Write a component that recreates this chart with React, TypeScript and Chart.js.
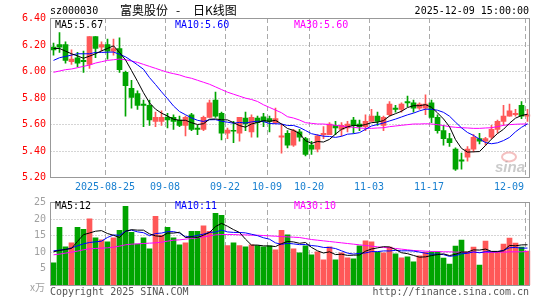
import React, { useEffect, useRef } from 'react';
import { Chart, registerables } from 'chart.js';

Chart.register(...registerables);

// ---------------- data ----------------
const dates = [
  '2025-08-12','2025-08-13','2025-08-14','2025-08-15','2025-08-18','2025-08-19','2025-08-20','2025-08-21','2025-08-22','2025-08-25',
  '2025-08-26','2025-08-27','2025-08-28','2025-08-29','2025-09-01','2025-09-02','2025-09-03','2025-09-04','2025-09-05','2025-09-08',
  '2025-09-09','2025-09-10','2025-09-11','2025-09-12','2025-09-15','2025-09-16','2025-09-17','2025-09-18','2025-09-19','2025-09-22',
  '2025-09-23','2025-09-24','2025-09-25','2025-09-26','2025-09-29','2025-09-30','2025-10-09','2025-10-10','2025-10-13','2025-10-14',
  '2025-10-15','2025-10-16','2025-10-17','2025-10-20','2025-10-21','2025-10-22','2025-10-23','2025-10-24','2025-10-27','2025-10-28',
  '2025-10-29','2025-10-30','2025-10-31','2025-11-03','2025-11-04','2025-11-05','2025-11-06','2025-11-07','2025-11-10','2025-11-11',
  '2025-11-12','2025-11-13','2025-11-14','2025-11-17','2025-11-18','2025-11-19','2025-11-20','2025-11-21','2025-11-24','2025-11-25',
  '2025-11-26','2025-11-27','2025-11-28','2025-12-01','2025-12-02','2025-12-03','2025-12-04','2025-12-05','2025-12-08','2025-12-09',
];

const tickDates = ['2025-08-25','2025-09-08','2025-09-22','2025-10-09','2025-10-20','2025-11-03','2025-11-17','2025-12-09'];
const tickTexts = ['2025-08-25','09-08','09-22','10-09','10-20','11-03','11-17','12-09'];

const opens = [
  6.18,6.20,6.20,6.07,6.10,6.08,6.05,6.26,6.18,6.20,
  6.15,6.17,5.99,5.87,5.83,5.75,5.74,5.62,5.62,5.65,
  5.65,5.63,5.59,5.67,5.57,5.56,5.65,5.78,5.68,5.53,
  5.55,5.53,5.645,5.54,5.645,5.655,5.64,5.61,5.50,5.53,
  5.44,5.54,5.49,5.44,5.41,5.52,5.52,5.59,5.56,5.57,
  5.63,5.60,5.58,5.62,5.66,5.59,5.67,5.72,5.71,5.77,
  5.76,5.72,5.72,5.76,5.65,5.55,5.49,5.41,5.33,5.35,
  5.41,5.49,5.47,5.50,5.56,5.62,5.66,5.67,5.74,5.66,
];
const closes = [
  6.16,6.18,6.08,6.09,6.06,6.07,6.26,6.17,6.20,6.15,
  6.17,6.01,5.89,5.80,5.74,5.74,5.63,5.65,5.65,5.63,
  5.62,5.59,5.65,5.56,5.56,5.65,5.76,5.66,5.53,5.555,
  5.545,5.65,5.60,5.65,5.61,5.62,5.62,5.64,5.51,5.44,
  5.55,5.50,5.37,5.41,5.51,5.53,5.60,5.57,5.59,5.60,
  5.59,5.58,5.62,5.66,5.62,5.65,5.75,5.71,5.75,5.76,
  5.72,5.75,5.75,5.65,5.55,5.49,5.46,5.26,5.32,5.41,
  5.50,5.47,5.49,5.56,5.62,5.66,5.70,5.68,5.66,5.67,
];
const highs = [
  6.21,6.29,6.22,6.16,6.14,6.15,6.26,6.26,6.22,6.24,
  6.24,6.25,6.00,5.93,5.85,5.78,5.78,5.69,5.70,5.68,
  5.67,5.66,5.66,5.68,5.59,5.66,5.78,5.84,5.69,5.57,
  5.62,5.65,5.69,5.67,5.66,5.68,5.66,5.72,5.60,5.55,
  5.56,5.56,5.50,5.47,5.52,5.58,5.61,5.62,5.61,5.62,
  5.65,5.63,5.67,5.71,5.69,5.66,5.77,5.74,5.76,5.81,
  5.78,5.76,5.82,5.78,5.67,5.59,5.53,5.42,5.38,5.43,
  5.52,5.53,5.50,5.59,5.63,5.74,5.75,5.71,5.77,5.71,
];
const lows = [
  6.12,6.14,6.06,6.05,6.03,5.99,6.02,6.10,6.15,6.09,
  6.12,5.99,5.66,5.72,5.71,5.58,5.59,5.58,5.59,5.57,
  5.56,5.58,5.51,5.55,5.52,5.55,5.65,5.65,5.48,5.49,
  5.46,5.47,5.55,5.50,5.50,5.58,5.54,5.60,5.38,5.42,
  5.43,5.47,5.36,5.37,5.39,5.49,5.52,5.52,5.51,5.54,
  5.53,5.55,5.55,5.62,5.59,5.55,5.66,5.69,5.69,5.73,
  5.69,5.71,5.67,5.61,5.53,5.44,5.43,5.25,5.26,5.32,
  5.39,5.45,5.44,5.49,5.53,5.59,5.66,5.66,5.64,5.62,
];
// volume in 万 (x10k) shares
const volumes = [
  6.7,17.4,11.5,12.7,17.4,16.8,19.9,14.2,13.6,13.0,
  14.2,16.5,23.7,15.9,12.3,14.2,10.9,20.7,15.0,17.4,
  14.2,12.1,12.7,16.2,16.2,17.8,16.2,21.6,21.0,11.9,
  12.7,11.9,11.5,12.1,11.9,11.5,11.8,10.6,16.5,15.1,
  10.9,9.7,11.8,9.1,10.0,7.6,11.5,7.6,9.7,8.2,
  7.9,11.8,13.3,13.0,9.9,9.7,11.4,9.4,8.2,8.5,
  7.0,8.8,9.9,10.1,10.0,8.1,6.3,11.7,13.5,10.0,
  11.4,6.0,13.2,10.0,10.0,12.3,14.1,12.6,11.4,10.2,
];

// moving-average values at the window start (earlier sessions are not shown)
const ma5Head = [6.17, 6.17, 6.15, 6.13];
const ma10Head = [6.08, 6.10, 6.11, 6.12, 6.13, 6.13, 6.13, 6.14, 6.14];
const ma30Price = [
  5.99,6.00,6.01,6.015,6.025,6.035,6.045,6.06,6.07,6.08,
  6.085,6.09,6.085,6.075,6.065,6.05,6.035,6.02,6.005,5.99,
  5.98,5.97,5.955,5.945,5.93,5.915,5.90,5.88,5.86,5.84,
  5.825,5.81,5.795,5.785,5.77,5.745,5.725,5.705,5.685,5.655,
  5.645,5.63,5.61,5.605,5.60,5.60,5.595,5.59,5.585,5.58,
  5.575,5.57,5.567,5.567,5.57,5.572,5.58,5.585,5.59,5.595,
  5.60,5.60,5.602,5.60,5.595,5.588,5.58,5.575,5.572,5.57,
  5.567,5.567,5.57,5.572,5.58,5.59,5.595,5.598,5.60,5.60,
];
const volMa5Head = [10.0, 10.4, 10.7, 11.0];
const volMa10Head = [10.3, 10.5, 10.7, 11.2, 11.8, 12.4, 12.8, 13.0, 13.2];
const volMa30 = [
  9.1,9.3,9.6,9.9,10.2,10.6,10.9,11.0,11.1,11.2,
  11.4,11.7,12.1,12.3,12.4,12.5,12.6,12.7,12.9,13.2,
  13.5,13.6,13.8,14.0,14.2,14.5,14.8,15.1,15.2,15.2,
  15.2,15.1,15.1,15.0,15.0,14.9,14.8,14.7,14.6,14.5,
  14.4,14.3,14.0,13.7,13.5,13.3,13.1,12.9,12.7,12.5,
  12.3,12.1,11.9,11.7,11.5,11.3,11.2,11.0,10.8,10.6,
  10.4,10.3,10.2,10.1,10.1,10.0,10.0,9.9,9.9,9.8,
  9.8,9.8,9.8,9.8,9.9,9.9,10.0,10.0,10.0,10.1,
];

const priceTicks = [6.4, 6.2, 6.0, 5.8, 5.6, 5.4, 5.2];
const volTicks = [25, 20, 15, 10, 5];

// ---------------- helpers ----------------
const RED = '#ff5858';
const GREEN = '#00a400';
const MONO = '"DejaVu Sans Mono", "Liberation Mono", monospace';
const GRID = '#aaaaaa';

function movingAvg(src: number[], n: number, head: number[]) {
  return src.map((_, i) => {
    if (i < n - 1) return head[i];
    let s = 0;
    for (let k = i - n + 1; k <= i; k++) s += src[k];
    return s / n;
  });
}

const ma5 = movingAvg(closes, 5, ma5Head);
const ma10 = movingAvg(closes, 10, ma10Head);
const vma5 = movingAvg(volumes, 5, volMa5Head);
const vma10 = movingAvg(volumes, 10, volMa10Head);
const candleColors = closes.map((c, i) => (c >= opens[i] ? RED : GREEN));

function drawGrid(chart: any, hVals: number[]) {
  const { ctx, chartArea: a, scales } = chart;
  const x = scales.x;
  const y = scales.y;
  const slot = (a.right - a.left) / dates.length;
  ctx.save();
  ctx.lineWidth = 1;
  ctx.strokeStyle = GRID;
  ctx.setLineDash([1, 2]);
  hVals.forEach((v) => {
    const py = Math.round(y.getPixelForValue(v)) + 0.5;
    ctx.beginPath();
    ctx.moveTo(a.left, py);
    ctx.lineTo(a.right - 1, py);
    ctx.stroke();
  });
  ctx.setLineDash([5, 3]);
  tickDates.forEach((d) => {
    const i = dates.indexOf(d);
    const px = Math.round(x.getPixelForValue(i) - slot / 2) + 0.5;
    ctx.beginPath();
    ctx.moveTo(px, a.top);
    ctx.lineTo(px, a.bottom);
    ctx.stroke();
  });
  ctx.restore();
}

function drawFrame(chart: any) {
  const { ctx, chartArea: a } = chart;
  ctx.save();
  ctx.strokeStyle = '#999999';
  ctx.lineWidth = 1;
  ctx.setLineDash([]);
  const l = Math.round(a.left - 0.5) + 0.5;
  const r = Math.round(a.right - 1.5) + 0.5;
  const t = Math.round(a.top) + 0.5;
  const b = Math.round(a.bottom) + 0.5;
  ctx.strokeRect(l, t, r - l, b - t);
  ctx.restore();
}

const pricePlugin = {
  id: 'pricePanel',
  beforeDatasetsDraw(chart: any) {
    drawGrid(chart, [6.2, 6.0, 5.8, 5.6, 5.4]);
    const { ctx } = chart;
    // sina watermark
    ctx.save();
    ctx.strokeStyle = 'rgba(235,140,140,0.55)';
    ctx.lineWidth = 2;
    ctx.beginPath();
    ctx.ellipse(509, 157, 7, 4.5, 0, 0, Math.PI * 2);
    ctx.stroke();
    ctx.fillStyle = 'rgba(160,160,160,0.55)';
    ctx.font = 'italic bold 15px "Liberation Sans", Arial, sans-serif';
    ctx.textBaseline = 'alphabetic';
    ctx.textAlign = 'left';
    ctx.fillText('sina', 495, 172);
    ctx.restore();
  },
  afterDatasetsDraw(chart: any) {
    drawFrame(chart);
    const { ctx, chartArea: a, scales } = chart;
    const x = scales.x;
    const y = scales.y;
    const slot = (a.right - a.left) / dates.length;
    ctx.save();
    ctx.textBaseline = 'middle';
    ctx.font = '10px ' + MONO;
    // price labels
    ctx.fillStyle = '#ff0000';
    ctx.textAlign = 'right';
    priceTicks.forEach((v) => {
      ctx.fillText(v.toFixed(2), 46, Math.round(y.getPixelForValue(v)));
    });
    // date labels
    ctx.fillStyle = '#1a80d0';
    tickDates.forEach((d, k) => {
      const i = dates.indexOf(d);
      const px = Math.round(x.getPixelForValue(i) - slot / 2);
      const txt = tickTexts[k];
      const w = ctx.measureText(txt).width;
      if (px + w / 2 > a.right - 7) {
        ctx.textAlign = 'right';
        ctx.fillText(txt, Math.round(a.right - 7), 187);
      } else {
        ctx.textAlign = 'center';
        ctx.fillText(txt, px, 187);
      }
    });
    // legends
    const n = closes.length - 1;
    ctx.textAlign = 'left';
    ctx.fillStyle = '#000000';
    ctx.fillText('MA5:' + ma5[n].toFixed(2), 55, 25);
    ctx.fillStyle = '#0000ff';
    ctx.fillText('MA10:' + ma10[n].toFixed(2), 175, 25);
    ctx.fillStyle = '#ff00ff';
    ctx.fillText('MA30:' + ma30Price[n].toFixed(2), 294, 25);
    // header
    ctx.fillStyle = '#000000';
    ctx.fillText('sz000030', 50, 11);
    ctx.textAlign = 'right';
    ctx.fillText('2025-12-09 15:00:00', 529, 11);
    ctx.textAlign = 'left';
    ctx.font = '12px "Noto Sans CJK SC", sans-serif';
    ctx.fillText('富奥股份', 120, 10);
    ctx.fillText('日K线图', 193, 10);
    ctx.textAlign = 'center';
    ctx.fillText('-', 178, 10);
    ctx.restore();
  },
};

const volumePlugin = {
  id: 'volumePanel',
  beforeDatasetsDraw(chart: any) {
    drawGrid(chart, [20, 15, 10, 5]);
  },
  afterDatasetsDraw(chart: any) {
    drawFrame(chart);
    const { ctx, scales } = chart;
    const y = scales.y;
    ctx.save();
    ctx.textBaseline = 'middle';
    ctx.font = '10px ' + MONO;
    ctx.fillStyle = '#a0a0a0';
    ctx.textAlign = 'right';
    volTicks.forEach((v) => {
      ctx.fillText(String(v), 46, Math.round(y.getPixelForValue(v)));
    });
    ctx.font = '10px "Noto Sans CJK SC", sans-serif';
    ctx.fillText('x万', 45, 287);
    const n = volumes.length - 1;
    ctx.font = '10px ' + MONO;
    ctx.textAlign = 'left';
    ctx.fillStyle = '#000000';
    ctx.fillText('MA5:' + Math.round(vma5[n]), 55, 206);
    ctx.fillStyle = '#0000ff';
    ctx.fillText('MA10:' + Math.round(vma10[n]), 175, 206);
    ctx.fillStyle = '#ff00ff';
    ctx.fillText('MA30:' + Math.round(volMa30[n]), 294, 206);
    ctx.fillStyle = '#555555';
    ctx.fillText('Copyright 2025 SINA.COM', 50, 292);
    ctx.textAlign = 'right';
    ctx.fillText('http://finance.sina.com.cn', 529, 292);
    ctx.restore();
  },
};

function lineDs(label: string, data: number[], color: string) {
  return {
    type: 'line' as const,
    label,
    data,
    borderColor: color,
    backgroundColor: color,
    borderWidth: 1,
    pointRadius: 0,
    tension: 0,
    fill: false,
    order: 0,
  };
}

const baseOptions = (padding: any, yMin: number, yMax: number) => ({
  responsive: false,
  animation: false as const,
  devicePixelRatio: 1,
  events: [] as any[],
  layout: { padding },
  plugins: { legend: { display: false }, tooltip: { enabled: false } },
  scales: {
    x: { type: 'category' as const, display: false, offset: true },
    y: { type: 'linear' as const, display: false, min: yMin, max: yMax },
  },
});

export default function App() {
  const priceRef = useRef<HTMLCanvasElement | null>(null);
  const volRef = useRef<HTMLCanvasElement | null>(null);

  useEffect(() => {
    document.body.style.margin = '0';
    const priceChart = new Chart(priceRef.current as HTMLCanvasElement, {
      type: 'bar',
      data: {
        labels: dates,
        datasets: [
          lineDs('MA5', ma5, '#000000'),
          lineDs('MA10', ma10, '#0000ff'),
          lineDs('MA30', ma30Price, '#ff00ff'),
          {
            type: 'bar',
            label: 'body',
            data: opens.map((o, i) => [o, closes[i]]),
            backgroundColor: candleColors,
            barThickness: 5,
            minBarLength: 1,
            grouped: false,
            order: 1,
          } as any,
          {
            type: 'bar',
            label: 'wick',
            data: lows.map((l, i) => [l, highs[i]]),
            backgroundColor: candleColors,
            barThickness: 1,
            grouped: false,
            order: 2,
          } as any,
        ],
      },
      options: baseOptions({ left: 50.5, right: 14.5, top: 18, bottom: 123 }, 5.2, 6.4) as any,
      plugins: [pricePlugin],
    });

    const volChart = new Chart(volRef.current as HTMLCanvasElement, {
      type: 'bar',
      data: {
        labels: dates,
        datasets: [
          lineDs('VMA5', vma5, '#000000'),
          lineDs('VMA10', vma10, '#0000ff'),
          lineDs('VMA30', volMa30, '#ff00ff'),
          {
            type: 'bar',
            label: 'volume',
            data: volumes,
            backgroundColor: candleColors,
            barThickness: 5,
            grouped: false,
            order: 1,
          } as any,
        ],
      },
      options: baseOptions({ left: 50.5, right: 14.5, top: 202, bottom: 15 }, 0, 25) as any,
      plugins: [volumePlugin],
    });

    return () => {
      priceChart.destroy();
      volChart.destroy();
    };
  }, []);

  return (
    <div style={{ position: 'fixed', left: 0, top: 0, width: 545, height: 300, background: '#ffffff' }}>
      <canvas ref={priceRef} width={545} height={300} style={{ position: 'absolute', left: 0, top: 0 }} />
      <canvas ref={volRef} width={545} height={300} style={{ position: 'absolute', left: 0, top: 0 }} />
    </div>
  );
}
